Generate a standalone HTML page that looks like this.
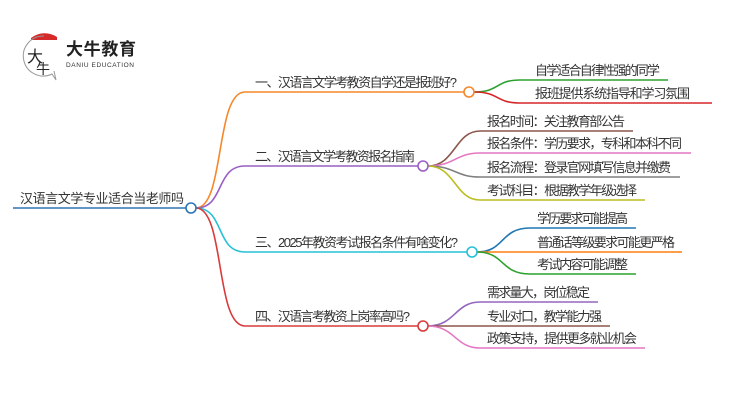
<!DOCTYPE html>
<html><head><meta charset="utf-8"><style>
html,body{margin:0;padding:0;background:#fff;width:750px;height:410px;overflow:hidden}
svg text{font-family:"Liberation Sans","Noto Sans CJK SC",sans-serif;font-size:13px;fill:#333}
</style></head><body>
<svg width="750" height="410" viewBox="0 0 750 410" xmlns="http://www.w3.org/2000/svg">
<g>
<path d="M31 38 A22 22 0 0 1 57 37 L57 40 L31 40 Z" fill="#d42a2a"/>
<path d="M44 36 A20 20 0 1 0 52 74 L56 80 L54 71" fill="none" stroke="#999" stroke-width="1"/>
<text x="27" y="62" style="font-size:16px;fill:#222">大</text>
<text x="36" y="74" style="font-size:14px;fill:#222">牛</text>
<text x="66" y="55" style="font-size:17px;font-weight:bold;fill:#222" textLength="70">大牛教育</text>
<text x="66" y="67" style="font-size:6.5px;fill:#333" textLength="68">DANIU EDUCATION</text>
</g>
<g fill="none" stroke-width="1.6">
<line x1="13" y1="208" x2="186" y2="208" stroke="#2e75b6"/>
<path d="M196 208 C225 208 215 92 245 92 L464 92" stroke="#f5882a"/>
<path d="M196 208 C225 208 215 166 245 166 L418 166" stroke="#9a5fc7"/>
<path d="M196 208 C225 208 215 252 245 252 L467 252" stroke="#26c0d6"/>
<path d="M196 208 C225 208 215 326 245 326 L418 326" stroke="#d93a3a"/>
<path d="M474 92 C500 92 495 80 520 80 L668 80" stroke="#2ca02c"/>
<path d="M474 92 C500 92 495 103 520 103 L712 103" stroke="#d62728"/>
<path d="M428 166 C455 166 455 131 480 131 L633 131" stroke="#8c564b"/>
<path d="M428 166 C455 166 455 153 480 153 L691 153" stroke="#e377c2"/>
<path d="M428 166 C455 166 455 177 480 177 L680 177" stroke="#7f7f7f"/>
<path d="M428 166 C455 166 455 200 480 200 L645 200" stroke="#bcbd22"/>
<path d="M477 252 C505 252 500 228 530 228 L636 228" stroke="#1f77b4"/>
<path d="M477 252 L682 252" stroke="#ff7f0e"/>
<path d="M477 252 C505 252 500 274 530 274 L636 274" stroke="#2ca02c"/>
<path d="M428 326 C455 326 455 302 480 302 L598 302" stroke="#9467bd"/>
<path d="M428 326 L610 326" stroke="#8c564b"/>
<path d="M428 326 C455 326 455 348 480 348 L645 348" stroke="#e377c2"/>
</g>
<g fill="#fff" stroke-width="1.6">
<circle cx="191" cy="208" r="5" stroke="#2e75b6"/>
<circle cx="469" cy="92" r="5" stroke="#f5882a"/>
<circle cx="423" cy="166" r="5" stroke="#9a5fc7"/>
<circle cx="472" cy="252" r="5" stroke="#26c0d6"/>
<circle cx="423" cy="326" r="5" stroke="#d93a3a"/>
</g>
<text x="20" y="203" textLength="164">汉语言文学专业适合当老师吗</text>
<text x="255" y="87" textLength="202">一、汉语言文学考教资自学还是报班好?</text>
<text x="535" y="75" textLength="125">自学适合自律性强的同学</text>
<text x="535" y="98" textLength="155">报班提供系统指导和学习氛围</text>
<text x="255" y="161" textLength="160">二、汉语言文学考教资报名指南</text>
<text x="487" y="126" textLength="138">报名时间：关注教育部公告</text>
<text x="487" y="148" textLength="195">报名条件：学历要求，专科和本科不同</text>
<text x="487" y="172" textLength="184">报名流程：登录官网填写信息并缴费</text>
<text x="487" y="195" textLength="150">考试科目：根据教学年级选择</text>
<text x="255" y="247" textLength="203">三、2025年教资考试报名条件有啥变化?</text>
<text x="537" y="223" textLength="91">学历要求可能提高</text>
<text x="537" y="247" textLength="138">普通话等级要求可能更严格</text>
<text x="537" y="269" textLength="91">考试内容可能调整</text>
<text x="255" y="321" textLength="155">四、汉语言考教资上岗率高吗?</text>
<text x="487" y="297" textLength="103">需求量大，岗位稳定</text>
<text x="487" y="321" textLength="115">专业对口，教学能力强</text>
<text x="487" y="343" textLength="150">政策支持，提供更多就业机会</text>
</svg>
</body></html>
